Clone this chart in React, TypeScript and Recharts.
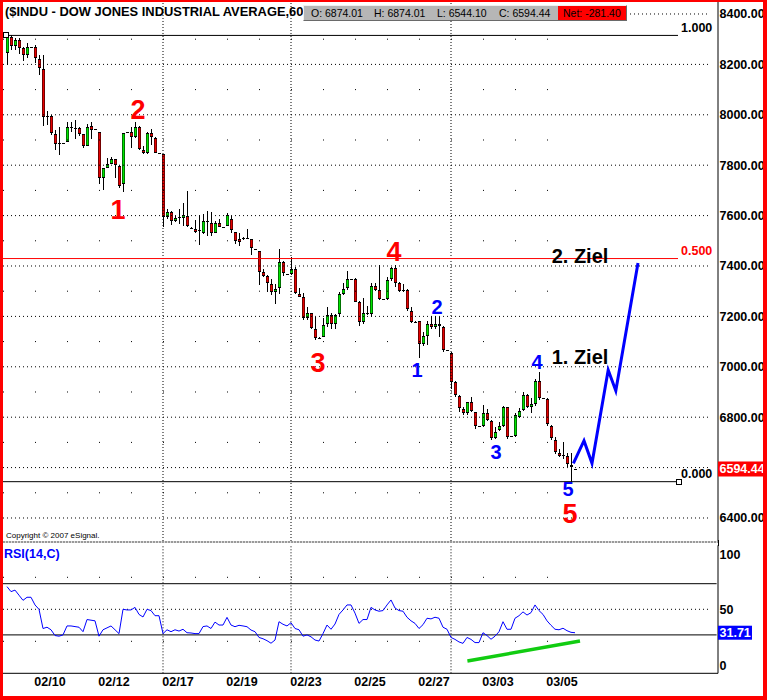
import React from 'react';
import { ComposedChart, Bar, Line, XAxis, YAxis, ReferenceLine, ReferenceDot } from 'recharts';

// ---------------- DATA ----------------
const opens = [
  8244, 8310, 8273, 8297, 8264, 8237, 8270, 8268, 8220, 8180,
  7995, 7996, 7922, 7889, 7887, 7891, 7952, 7948, 7947, 7922,
  7877, 7957, 7942, 7930, 7750, 7790, 7805, 7823, 7797, 7724,
  7930, 7933, 7913, 7950, 7860, 7850, 7926, 7907, 7847, 7843,
  7593, 7616, 7580, 7593, 7590, 7598, 7552, 7547, 7542, 7530,
  7577, 7572, 7532, 7572, 7554, 7558, 7585, 7535, 7506, 7510,
  7510, 7506, 7466, 7460, 7375, 7362, 7327, 7295, 7312, 7416,
  7368, 7368, 7387, 7289, 7275, 7192, 7212, 7150, 7116, 7117,
  7168, 7205, 7170, 7209, 7288, 7312, 7349, 7349, 7256, 7177,
  7212, 7208, 7320, 7305, 7270, 7270, 7347, 7393, 7331, 7305,
  7305, 7221, 7179, 7182, 7090, 7122, 7170, 7156, 7170, 7157,
  7067, 7054, 6938, 6886, 6832, 6815, 6859, 6819, 6765, 6765,
  6815, 6786, 6719, 6749, 6765, 6839, 6726, 6727, 6801, 6829,
  6888, 6839, 6852, 6944, 6876, 6874, 6765, 6710, 6657, 6649,
  6647, 6610, 6594,
];
const highs = [
  8314, 8316, 8303, 8303, 8270, 8284, 8271, 8276, 8238, 8236,
  8017, 8000, 7940, 7953, 7888, 7970, 7970, 7980, 7950, 7925,
  7962, 7973, 7943, 7931, 7790, 7830, 7833, 7824, 7800, 7926,
  7931, 7952, 7970, 7955, 7875, 7933, 7944, 7910, 7848, 7845,
  7625, 7620, 7600, 7625, 7650, 7698, 7553, 7583, 7602, 7607,
  7620, 7616, 7580, 7585, 7555, 7610, 7598, 7536, 7530, 7515,
  7545, 7507, 7467, 7461, 7390, 7363, 7347, 7330, 7467, 7420,
  7369, 7437, 7397, 7312, 7292, 7236, 7215, 7199, 7117, 7192,
  7238, 7215, 7210, 7298, 7331, 7381, 7350, 7351, 7260, 7272,
  7240, 7331, 7331, 7404, 7271, 7355, 7397, 7404, 7335, 7330,
  7310, 7238, 7180, 7183, 7139, 7183, 7201, 7201, 7198, 7162,
  7068, 7060, 6942, 6890, 6840, 6861, 6881, 6822, 6766, 6848,
  6831, 6790, 6762, 6782, 6844, 6842, 6727, 6815, 6835, 6901,
  6892, 6875, 6950, 6981, 6877, 6875, 6770, 6723, 6673, 6703,
  6659, 6659, 6595,
];
const lows = [
  8200, 8255, 8255, 8240, 8216, 8223, 8269, 8206, 8158, 7953,
  7960, 7920, 7860, 7840, 7886, 7891, 7930, 7905, 7915, 7870,
  7877, 7905, 7941, 7723, 7703, 7789, 7804, 7750, 7710, 7693,
  7929, 7867, 7907, 7860, 7845, 7845, 7880, 7845, 7846, 7555,
  7585, 7566, 7578, 7564, 7560, 7555, 7551, 7530, 7483, 7529,
  7520, 7520, 7531, 7554, 7553, 7557, 7530, 7490, 7480, 7505,
  7505, 7443, 7465, 7325, 7360, 7295, 7282, 7252, 7288, 7360,
  7367, 7367, 7291, 7277, 7185, 7185, 7150, 7106, 7115, 7116,
  7160, 7152, 7150, 7200, 7285, 7305, 7348, 7257, 7159, 7170,
  7205, 7196, 7300, 7265, 7269, 7265, 7340, 7315, 7295, 7298,
  7222, 7175, 7178, 7038, 7085, 7087, 7150, 7150, 7120, 7060,
  7066, 6914, 6880, 6822, 6810, 6810, 6820, 6756, 6764, 6760,
  6785, 6710, 6715, 6745, 6760, 6716, 6725, 6720, 6795, 6825,
  6835, 6815, 6842, 6870, 6875, 6765, 6710, 6655, 6640, 6637,
  6605, 6544, 6593,
];
const closes = [
  8310, 8273, 8297, 8264, 8237, 8268, 8270, 8224, 8184, 7990,
  7990, 7926, 7883, 7885, 7887, 7953, 7948, 7946, 7924, 7876,
  7953, 7940, 7942, 7750, 7790, 7805, 7823, 7800, 7719, 7926,
  7930, 7913, 7950, 7863, 7850, 7926, 7910, 7847, 7847, 7596,
  7616, 7580, 7589, 7591, 7604, 7559, 7552, 7534, 7538, 7577,
  7575, 7532, 7572, 7555, 7554, 7602, 7543, 7500, 7497, 7510,
  7511, 7470, 7466, 7378, 7362, 7331, 7295, 7309, 7416, 7371,
  7368, 7387, 7292, 7278, 7192, 7212, 7155, 7116, 7116, 7166,
  7205, 7170, 7205, 7288, 7309, 7349, 7349, 7258, 7177, 7212,
  7213, 7320, 7305, 7270, 7270, 7345, 7393, 7331, 7301, 7301,
  7228, 7179, 7179, 7090, 7122, 7170, 7157, 7170, 7162, 7067,
  7067, 6938, 6888, 6835, 6815, 6859, 6826, 6766, 6765, 6815,
  6789, 6719, 6740, 6765, 6839, 6723, 6726, 6809, 6825, 6888,
  6842, 6852, 6944, 6875, 6876, 6772, 6716, 6661, 6647, 6645,
  6613, 6604, 6594.44,
];
const rsiValues = [
  67.7, 63.8, 65, 61, 57, 59.4, 59.4, 53.4, 50, 35,
  36, 34, 29.5, 29, 30, 37, 37, 36.5, 36, 32.5,
  42, 41.5, 41, 29, 34, 35.5, 37, 34, 31, 50,
  49.5, 49.5, 51.5, 46, 44, 50, 49, 45, 45, 31,
  34, 32.5, 34, 33, 34.4, 31.7, 31.5, 31, 31, 36.5,
  37, 35, 40, 37.7, 37.7, 43.7, 37.7, 36.4, 37.5, 37,
  36.4, 33.8, 32.5, 28, 27, 25.5, 23.5, 26, 40.3, 38.3,
  37, 39.5, 35, 34, 29, 30, 28.5, 26, 25.2, 31,
  37.7, 34.4, 38.5, 46, 49.5, 53.4, 53.4, 47, 39, 42,
  42, 51.5, 49.5, 48.5, 49, 53.4, 57.3, 51, 49, 48.5,
  43.8, 41, 39, 35, 38, 43, 42.5, 43.8, 43, 36,
  34.4, 28, 26.5, 24.5, 23.4, 28, 26.5, 24, 24, 31.7,
  29.5, 26.6, 29, 32.5, 40.3, 34.4, 34.4, 43, 45, 48,
  45.5, 47.4, 53.4, 49, 46, 41, 37.5, 34.4, 34, 35.2,
  33.3, 32, 31.71,
];

const dateLabels = ['02/10', '02/12', '02/17', '02/19', '02/23', '02/25', '02/27', '03/03', '03/05'];
const dateTickIdx = [10.75, 26.75, 42.75, 58.75, 74.75, 90.75, 106.75, 122.75, 138.75];
const weekStartIdx = [39, 71, 111];

const priceTicks = [6400, 6594.44, 6800, 7000, 7200, 7400, 7600, 7800, 8000, 8200, 8400];
const majorLevels = [6400, 6600, 6800, 7000, 7200, 7400, 7600, 7800, 8000, 8200];
const minorLevels = [6500, 6700, 6900, 7100, 7300, 7500, 7700, 7900, 8100, 8300];
const lastClose = 6594.44;

const fibLabels = ['1.000', '0.500', '0.000'];
const fibValues = [8315, 7429.5, 6544.1];

const projIdx = [141.6, 144.25, 146.25, 150.3, 152.2, 157.75];
const projPrice = [6617, 6707, 6617, 6987, 6905, 7412];

const rsiTrendIdx = [115.1, 143.25];
const rsiTrendVal = [9.6, 25.2];

const redWaveText = ['1', '2', '3', '4', '5'];
const redWaveIdx = [27.75, 32.75, 77.75, 96.75, 140.75];
const redWavePrice = [7626, 8023, 7019, 7460, 6418];

const blueWaveText = ['1', '2', '3', '4', '5'];
const blueWaveIdx = [102.5, 107.5, 122.25, 132.5, 140.25];
const blueWavePrice = [6987, 7237, 6662, 7019, 6514];

const targetText = ['1. Ziel', '2. Ziel'];
const targetIdx = [143.25, 143.25];
const targetPrice = [7039, 7440];

const rsiTicks = [0, 31.71, 50, 100];
const infoLabels = ['O: 6874.01', 'H: 6874.01', 'L: 6544.10', 'C: 6594.44'];
const netLabel = 'Net: -281.40';
const titleText = '($INDU - DOW JONES INDUSTRIAL AVERAGE,60)';

// ---------------- BUILT TABLES ----------------
const candleData = opens.map((o, i) => ({
  i,
  o,
  h: highs[i],
  l: lows[i],
  c: closes[i],
  range: [lows[i], highs[i]],
  rsi: rsiValues[i],
}));
const projData = projIdx.map((i, k) => ({ i, p: projPrice[k] }));
const trendData = rsiTrendIdx.map((i, k) => ({ i, g: rsiTrendVal[k] }));

// ---------------- STYLE ----------------
const FONT = '"Liberation Sans", Arial, Helvetica, sans-serif';
const UP = '#00e600';
const DOWN = '#e60000';
const X_DOMAIN: [number, number] = [-1, 177.75];
const PRICE_DOMAIN: [number, number] = [6308.7, 8447.6];
const GRID_END = 175.25;
const MINOR_END = 135.25;

function Candle(props: any) {
  const { x, y, width, height, payload } = props;
  if (!payload || x == null || y == null) return null;
  const { o, h, l, c } = payload;
  const cx = Math.round(x + width / 2);
  const ppu = h > l ? height / (h - l) : 0;
  const py = (v: number) => y + (h - v) * ppu;
  const top = Math.round(py(Math.max(o, c)));
  const bot = Math.round(py(Math.min(o, c)));
  const bodyH = Math.max(bot - top, 1);
  return (
    <g>
      <rect x={cx} y={Math.round(y)} width={1} height={Math.max(Math.round(height), 1)} fill="#000" />
      <rect x={cx - 1} y={top} width={3} height={bodyH} fill="#000" />
      {bodyH > 2 && <rect x={cx - 0.5} y={top + 1} width={2} height={bodyH - 2} fill={c >= o ? UP : DOWN} />}
    </g>
  );
}

const PriceTick = (props: any) => {
  const { y, payload } = props;
  const v = payload.value;
  if (Math.abs(v - lastClose) < 0.01) {
    return (
      <g>
        <rect x={718} y={y - 7.5} width={45} height={15} fill="#ff0000" />
        <text x={719.5} y={y + 4.5} fill="#fff" fontSize={12.5} fontWeight="bold" fontFamily={FONT}>
          {v.toFixed(2)}
        </text>
      </g>
    );
  }
  return (
    <text x={719.5} y={y + 4.5} fill="#000" fontSize={12.5} fontWeight="bold" fontFamily={FONT}>
      {v.toFixed(2)}
    </text>
  );
};

const RsiTick = (props: any) => {
  const { y, payload } = props;
  const v = payload.value;
  if (v === 31.71) {
    return (
      <g>
        <rect x={718} y={y - 7} width={34} height={14} fill="#0000ff" />
        <text x={719.5} y={y + 4.5} fill="#fff" fontSize={12.5} fontWeight="bold" fontFamily={FONT}>
          31.71
        </text>
      </g>
    );
  }
  const dy = v === 100 ? 8.7 : v === 0 ? -8.3 : 0;
  return (
    <text x={719.5} y={y + dy + 4.5} fill="#000" fontSize={12.5} fontWeight="bold" fontFamily={FONT}>
      {String(v)}
    </text>
  );
};

const DateTick = (props: any) => {
  const { x, payload } = props;
  const k = dateTickIdx.indexOf(payload.value);
  return (
    <text x={x} y={145.5} textAnchor="middle" fill="#000" fontSize={12.5} fontWeight="bold" fontFamily={FONT}>
      {k >= 0 ? dateLabels[k] : ''}
    </text>
  );
};

const textShape = (t: string, color: string, size: number, anchor: string = 'middle', dx = 0, dy = 0) => (p: any) => (
  <text
    x={p.cx + dx}
    y={p.cy + dy + size * 0.36}
    fill={color}
    fontSize={size}
    fontWeight="bold"
    fontFamily={FONT}
    textAnchor={anchor as any}
  >
    {t}
  </text>
);

const squareShape = (p: any) => (
  <rect x={Math.round(p.cx) - 2.5} y={Math.round(p.cy) - 2.5} width={5} height={5} fill="#fff" stroke="#000" strokeWidth={1} />
);

export default function App() {
  return (
    <div style={{ position: 'absolute', left: 0, top: 0, width: 767, height: 700, background: '#fff', fontFamily: FONT, overflow: 'hidden' }}>
      {/* PRICE PANEL */}
      <div style={{ position: 'absolute', left: 0, top: 0 }}>
        <ComposedChart width={767} height={541} data={candleData} margin={{ top: 2, right: 0, bottom: 0, left: 3 }}>
          <XAxis dataKey="i" type="number" domain={X_DOMAIN} allowDataOverflow hide />
          <YAxis
            orientation="right"
            width={49}
            domain={PRICE_DOMAIN}
            allowDataOverflow
            ticks={priceTicks}
            interval={0}
            tickLine={false}
            axisLine={{ stroke: '#000' }}
            tick={PriceTick}
          />
          {majorLevels.map((v) => (
            <ReferenceLine key={'mj' + v} segment={[{ x: -1, y: v }, { x: GRID_END, y: v }]} stroke="#000" strokeDasharray="1 3" />
          ))}
          <ReferenceLine segment={[{ x: 155.75, y: 8400 }, { x: GRID_END, y: 8400 }]} stroke="#000" strokeDasharray="1 3" />
          {minorLevels.map((v) => (
            <ReferenceLine key={'mn' + v} segment={[{ x: -1, y: v }, { x: MINOR_END, y: v }]} stroke="#000" strokeDasharray="1 31" />
          ))}
          {weekStartIdx.map((w) => (
            <ReferenceLine key={'wk' + w} x={w} stroke="#000" strokeDasharray="1 2" />
          ))}
          <ReferenceLine segment={[{ x: 0.25, y: fibValues[0] }, { x: 167.75, y: fibValues[0] }]} stroke="#000" strokeWidth={1} />
          <ReferenceLine segment={[{ x: -1, y: fibValues[1] }, { x: 167.75, y: fibValues[1] }]} stroke="#ff0000" strokeWidth={1} />
          <ReferenceLine segment={[{ x: -1, y: fibValues[2] }, { x: 167.3, y: fibValues[2] }]} stroke="#000" strokeWidth={1} />
          <Bar dataKey="range" barSize={3} shape={Candle} isAnimationActive={false} />
          <Line
            data={projData}
            dataKey="p"
            stroke="#0000ff"
            strokeWidth={3}
            dot={false}
            activeDot={false}
            isAnimationActive={false}
            type="linear"
          />
          <ReferenceDot x={-0.25} y={fibValues[0]} r={0} shape={squareShape} />
          <ReferenceDot x={167.9} y={fibValues[2]} r={0} shape={squareShape} />
          {fibLabels.map((t, k) => (
            <ReferenceDot
              key={'fl' + k}
              x={168.5}
              y={fibValues[k]}
              r={0}
              shape={textShape(t, k === 1 ? '#ff0000' : '#000', 12.5, 'start', 0, -8)}
            />
          ))}
          {redWaveText.map((t, k) => (
            <ReferenceDot key={'rw' + k} x={redWaveIdx[k]} y={redWavePrice[k]} r={0} shape={textShape(t, '#ff0000', 27)} />
          ))}
          {blueWaveText.map((t, k) => (
            <ReferenceDot key={'bw' + k} x={blueWaveIdx[k]} y={blueWavePrice[k]} r={0} shape={textShape(t, '#0000ff', 20)} />
          ))}
          {targetText.map((t, k) => (
            <ReferenceDot key={'tz' + k} x={targetIdx[k]} y={targetPrice[k]} r={0} shape={textShape(t, '#000', 20)} />
          ))}
        </ComposedChart>
      </div>

      {/* RSI PANEL */}
      <div style={{ position: 'absolute', left: 0, top: 540 }}>
        <ComposedChart width={767} height={156} data={candleData} margin={{ top: 5.3, right: 0, bottom: 0, left: 3 }}>
          <XAxis
            dataKey="i"
            type="number"
            domain={X_DOMAIN}
            allowDataOverflow
            ticks={dateTickIdx}
            interval={0}
            height={22.7}
            tickLine={false}
            axisLine={{ stroke: '#000' }}
            tick={DateTick}
          />
          <YAxis
            orientation="right"
            width={49}
            domain={[0, 100]}
            allowDataOverflow
            ticks={rsiTicks}
            interval={0}
            tickLine={false}
            axisLine={{ stroke: '#000' }}
            tick={RsiTick}
          />
          <ReferenceLine segment={[{ x: -1, y: 70 }, { x: 177.4, y: 70 }]} stroke="#000" strokeWidth={1} />
          <ReferenceLine segment={[{ x: -1, y: 30 }, { x: 177.4, y: 30 }]} stroke="#000" strokeWidth={1} />
          <ReferenceLine segment={[{ x: -1, y: 50 }, { x: GRID_END, y: 50 }]} stroke="#000" strokeDasharray="1 3" />
          <ReferenceLine segment={[{ x: -1, y: 75 }, { x: MINOR_END, y: 75 }]} stroke="#000" strokeDasharray="1 31" />
          <ReferenceLine segment={[{ x: -1, y: 25 }, { x: MINOR_END, y: 25 }]} stroke="#000" strokeDasharray="1 31" />
          {weekStartIdx.map((w) => (
            <ReferenceLine key={'rwk' + w} x={w} stroke="#000" strokeDasharray="1 2" />
          ))}
          <Line dataKey="rsi" stroke="#0000ff" strokeWidth={1} dot={false} activeDot={false} isAnimationActive={false} type="linear" />
          <Line
            data={trendData}
            dataKey="g"
            stroke="#11cc11"
            strokeWidth={3.5}
            dot={false}
            activeDot={false}
            isAnimationActive={false}
            type="linear"
          />
        </ComposedChart>
      </div>

      {/* separator between panels */}
      <div
        style={{
          position: 'absolute',
          left: 3,
          top: 541,
          width: 715,
          height: 2,
          background: 'repeating-linear-gradient(90deg, #9a9a9a 0px, #9a9a9a 2px, #dcdcdc 2px, #dcdcdc 3px)',
        }}
      />
      <div style={{ position: 'absolute', left: 718, top: 540, width: 1, height: 6, background: '#000' }} />

      {/* texts */}
      <div style={{ position: 'absolute', left: 5, top: 4, fontSize: 12.9, fontWeight: 'bold', lineHeight: '16px', color: '#000', whiteSpace: 'nowrap' }}>
        {titleText}
      </div>
      <div
        style={{
          position: 'absolute',
          left: 303,
          top: 5,
          width: 324,
          height: 16,
          boxSizing: 'border-box',
          borderTop: '1px solid #f0f0f0',
          borderLeft: '1px solid #f0f0f0',
          borderBottom: '1px solid #6a6a6a',
          borderRight: '1px solid #6a6a6a',
          backgroundColor: '#c6c6c6',
          backgroundImage: 'radial-gradient(#a4a4a4 0.6px, transparent 0.8px)',
          backgroundSize: '2px 2px',
          fontSize: 10.5,
          lineHeight: '14px',
          color: '#000',
          whiteSpace: 'nowrap',
        }}
      >
        {infoLabels.map((t, k) => (
          <span key={t} style={{ position: 'absolute', left: [7, 70, 133, 195][k], top: 0 }}>
            {t}
          </span>
        ))}
        <div style={{ position: 'absolute', left: 254, top: 0, width: 68, height: 14, background: '#ff0000' }}>
          <span style={{ position: 'absolute', left: 5, top: 0 }}>{netLabel}</span>
        </div>
      </div>
      <div style={{ position: 'absolute', left: 6, top: 531, fontSize: 8, lineHeight: '10px', color: '#000', whiteSpace: 'nowrap' }}>
        Copyright © 2007 eSignal.
      </div>
      <div style={{ position: 'absolute', left: 4, top: 546, fontSize: 12.5, fontWeight: 'bold', lineHeight: '16px', color: '#0000ff', whiteSpace: 'nowrap' }}>
        RSI(14,C)
      </div>

      {/* outer red frame */}
      <div
        style={{
          position: 'absolute',
          left: 0,
          top: 0,
          width: 767,
          height: 700,
          boxSizing: 'border-box',
          borderStyle: 'solid',
          borderColor: '#ff0000',
          borderWidth: '2px 4px 4px 3px',
          pointerEvents: 'none',
        }}
      />
    </div>
  );
}
